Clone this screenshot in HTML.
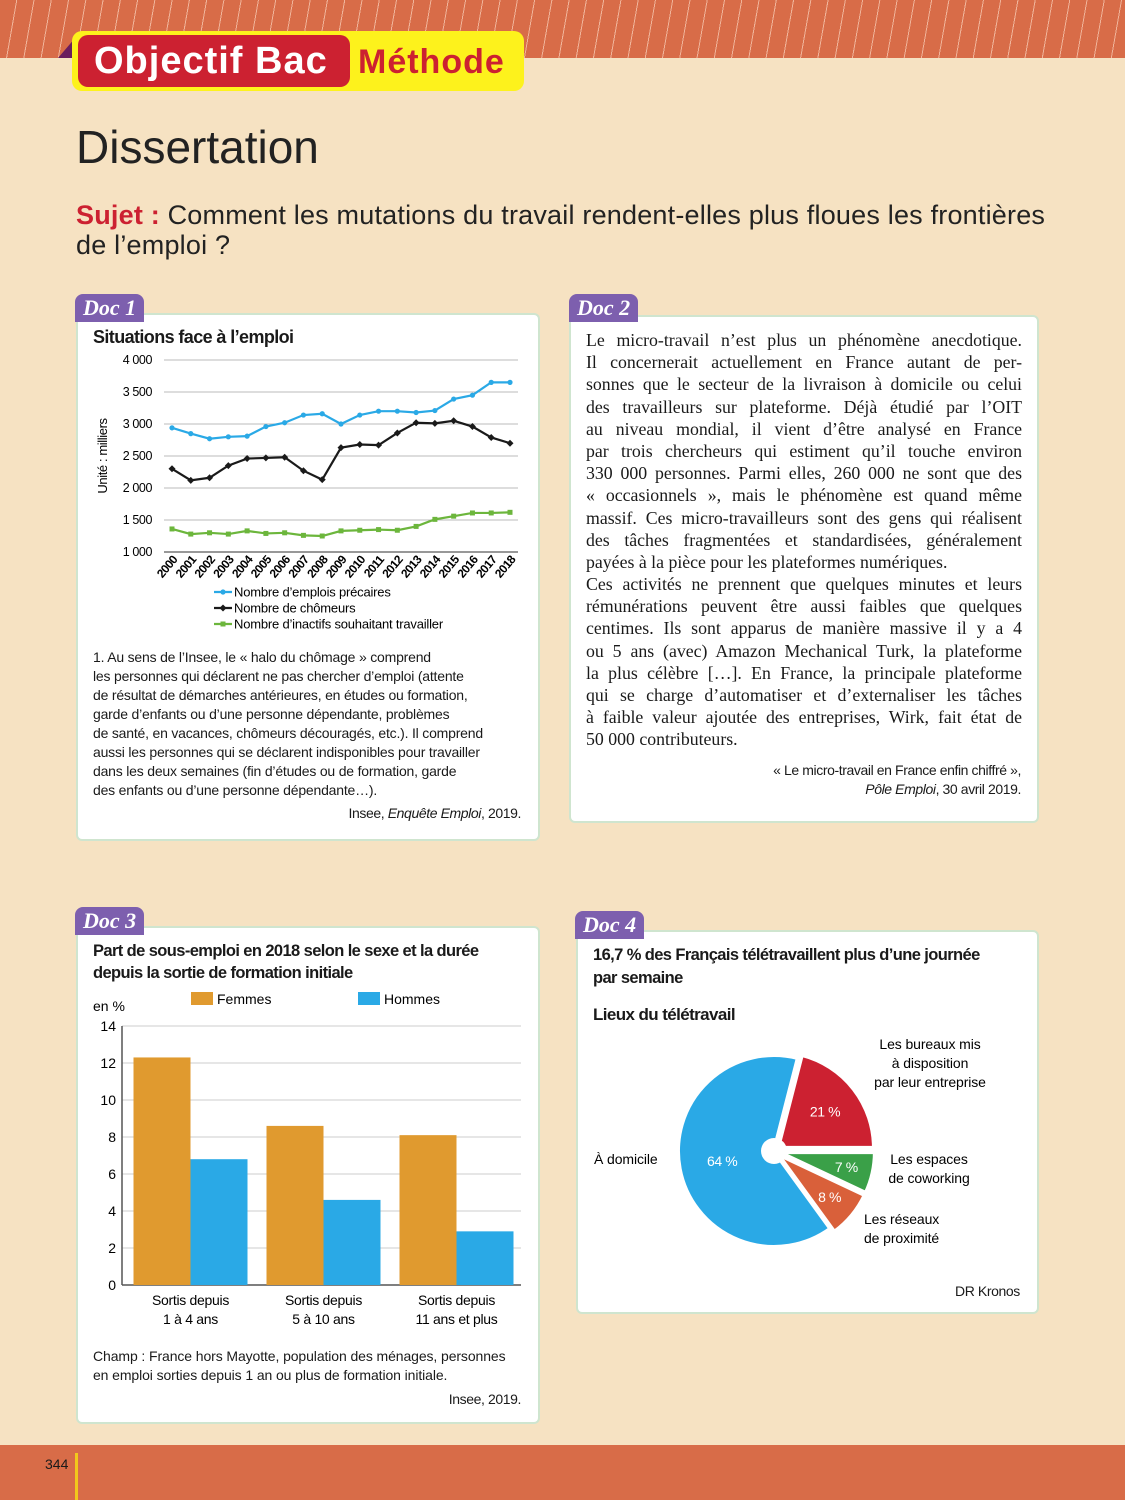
<!DOCTYPE html>
<html><head><meta charset="utf-8">
<style>
*{margin:0;padding:0;box-sizing:border-box}
body{width:1125px;height:1500px;position:relative;background:#f6e2c2;font-family:"Liberation Sans",sans-serif;overflow:hidden;color:#1a1a1a}
.abs{position:absolute}
.box{position:absolute;background:#fff;border:2px solid #cfe5cf;border-radius:6px}
.tab{position:absolute;background:#7d5fae;color:#fff;font-family:"Liberation Serif",serif;font-style:italic;font-weight:bold;font-size:22px;border-radius:8px 8px 0 0;padding:0 8px;height:28px;line-height:28px}
.cond{font-family:"Liberation Sans Narrow","Liberation Sans",sans-serif;letter-spacing:-0.6px}
.serif{font-family:"Liberation Serif",serif}
.nar{letter-spacing:-0.4px;white-space:nowrap}
.jl{text-align:justify;text-align-last:justify;white-space:nowrap;height:22.2px}
.jl.end{text-align-last:left}
</style></head><body>
<div class="abs" style="left:0;top:0;width:1125px;height:58px;background:repeating-linear-gradient(100deg,#d86c48 0 16px,#f0b49a 16px 17px)"></div>
<div class="abs" style="left:58px;top:37px;width:0;height:0;border-left:18px solid transparent;border-bottom:21px solid #6a1d5e"></div>
<div class="abs" style="left:72px;top:31px;width:452px;height:60px;background:#fdf21c;border-radius:10px"></div>
<div class="abs" style="left:78px;top:35px;width:272px;height:52px;background:#cc2131;border-radius:10px;color:#fff;font-weight:bold;font-size:38px;line-height:52px;padding-left:16px;letter-spacing:1px">Objectif Bac</div>
<div class="abs" style="left:358px;top:38px;color:#cc2131;font-weight:bold;font-size:34px;line-height:48px;letter-spacing:1px">Méthode</div>
<div class="abs" style="left:76px;top:120px;font-size:46px;color:#222">Dissertation</div>
<div class="abs" style="left:76px;top:200px;font-size:27px;line-height:30px;white-space:nowrap;color:#222;letter-spacing:0.2px"><span style="color:#cc2131;font-weight:bold">Sujet :</span> Comment les mutations du travail rendent-elles plus floues les frontières<br>de l’emploi ?</div>

<!-- Doc 1 -->
<div class="box" style="left:76px;top:313px;width:464px;height:528px"></div>
<div class="tab" style="left:75px;top:294px">Doc 1</div>
<div class="abs cond" style="left:93px;top:327px;font-weight:bold;font-size:18px">Situations face à l’emploi</div>
<svg class="abs" style="left:76px;top:340px" width="464" height="300" id="lc"></svg>
<div class="abs nar" style="left:93px;top:648px;font-size:14px;line-height:19px;letter-spacing:-0.2px">1. Au sens de l’Insee, le « halo du chômage » comprend<br>les personnes qui déclarent ne pas chercher d’emploi (attente<br>de résultat de démarches antérieures, en études ou formation,<br>garde d’enfants ou d’une personne dépendante, problèmes<br>de santé, en vacances, chômeurs découragés, etc.). Il comprend<br>aussi les personnes qui se déclarent indisponibles pour travailler<br>dans les deux semaines (fin d’études ou de formation, garde<br>des enfants ou d’une personne dépendante…).</div>
<div class="abs nar" style="right:604px;top:805px;font-size:14px">Insee, <i>Enquête Emploi</i>, 2019.</div>

<!-- Doc 2 -->
<div class="box" style="left:569px;top:315px;width:470px;height:508px"></div>
<div class="tab" style="left:569px;top:294px">Doc 2</div>
<div class="abs serif" style="left:586px;top:329px;width:436px;font-size:17.8px;line-height:22.2px">
<div class="jl">Le micro-travail n’est plus un phénomène anecdotique.</div>
<div class="jl">Il concernerait actuellement en France autant de per-</div>
<div class="jl">sonnes que le secteur de la livraison à domicile ou celui</div>
<div class="jl">des travailleurs sur plateforme. Déjà étudié par l’OIT</div>
<div class="jl">au niveau mondial, il vient d’être analysé en France</div>
<div class="jl">par trois chercheurs qui estiment qu’il touche environ</div>
<div class="jl">330 000 personnes. Parmi elles, 260 000 ne sont que des</div>
<div class="jl">« occasionnels », mais le phénomène est quand même</div>
<div class="jl">massif. Ces micro-travailleurs sont des gens qui réalisent</div>
<div class="jl">des tâches fragmentées et standardisées, généralement</div>
<div class="jl end">payées à la pièce pour les plateformes numériques.</div>
<div class="jl">Ces activités ne prennent que quelques minutes et leurs</div>
<div class="jl">rémunérations peuvent être aussi faibles que quelques</div>
<div class="jl">centimes. Ils sont apparus de manière massive il y a 4</div>
<div class="jl">ou 5 ans (avec) Amazon Mechanical Turk, la plateforme</div>
<div class="jl">la plus célèbre […]. En France, la principale plateforme</div>
<div class="jl">qui se charge d’automatiser et d’externaliser les tâches</div>
<div class="jl">à faible valeur ajoutée des entreprises, Wirk, fait état de</div>
<div class="jl end">50 000 contributeurs.</div>
</div>
<div class="abs nar" style="right:104px;top:761px;font-size:14px;line-height:19px;text-align:right">« Le micro-travail en France enfin chiffré »,<br><i>Pôle Emploi</i>, 30 avril 2019.</div>

<!-- Doc 3 -->
<div class="box" style="left:76px;top:926px;width:464px;height:498px"></div>
<div class="tab" style="left:75px;top:907px">Doc 3</div>
<div class="abs cond" style="left:93px;top:940px;font-weight:bold;font-size:16.5px;line-height:22px;white-space:nowrap">Part de sous-emploi en 2018 selon le sexe et la durée<br>depuis la sortie de formation initiale</div>
<svg class="abs" style="left:76px;top:985px" width="464" height="350" id="bc"></svg>
<div class="abs nar" style="left:93px;top:1347px;font-size:14px;line-height:19px;letter-spacing:-0.1px">Champ : France hors Mayotte, population des ménages, personnes<br>en emploi sorties depuis 1 an ou plus de formation initiale.</div>
<div class="abs nar" style="right:604px;top:1391px;font-size:14px">Insee, 2019.</div>

<!-- Doc 4 -->
<div class="box" style="left:576px;top:930px;width:463px;height:384px"></div>
<div class="tab" style="left:575px;top:911px">Doc 4</div>
<div class="abs cond" style="left:593px;top:944px;font-weight:bold;font-size:16.5px;line-height:23px;white-space:nowrap">16,7 % des Français télétravaillent plus d’une journée<br>par semaine</div>
<div class="abs cond" style="left:593px;top:1005px;font-weight:bold;font-size:17px">Lieux du télétravail</div>
<svg class="abs" style="left:576px;top:1030px" width="463" height="250" id="pc"></svg>
<div class="abs nar" style="left:955px;top:1283px;font-size:14px">DR Kronos</div>

<div class="abs" style="left:0;top:1445px;width:1125px;height:55px;background:#d86c48"></div>
<div class="abs" style="left:45px;top:1456px;font-size:14px">344</div>
<div class="abs" style="left:75px;top:1453px;width:3px;height:47px;background:#f2c81b"></div>

<script>
// ---- Doc 1 line chart data ----
const years = ["2000","2001","2002","2003","2004","2005","2006","2007","2008","2009","2010","2011","2012","2013","2014","2015","2016","2017","2018"];
const precaires = [2940,2850,2770,2800,2810,2960,3020,3140,3160,3000,3140,3200,3200,3180,3210,3390,3450,3650,3650];
const chomeurs = [2300,2120,2160,2350,2460,2470,2480,2270,2130,2630,2680,2670,2860,3020,3010,3050,2960,2790,2700];
const inactifs = [1360,1280,1300,1280,1330,1290,1300,1260,1250,1330,1340,1350,1340,1400,1510,1560,1610,1610,1620];
const lineTicks = [1000,1500,2000,2500,3000,3500,4000];
const lineTickLabels = ["1 000","1 500","2 000","2 500","3 000","3 500","4 000"];
const legendLabels = ["Nombre d’emplois précaires","Nombre de chômeurs","Nombre d’inactifs souhaitant travailler"];

// ---- Doc 3 bar chart data ----
const barCats = [["Sortis depuis","1 à 4 ans"],["Sortis depuis","5 à 10 ans"],["Sortis depuis","11 ans et plus"]];
const femmes = [12.3,8.6,8.1];
const hommes = [6.8,4.6,2.9];
const barTicks = [0,2,4,6,8,10,12,14];

// ---- Doc 4 pie data ----
const pieLabels = ["Les bureaux mis à disposition par leur entreprise","Les espaces de coworking","Les réseaux de proximité","À domicile"];
const pieValues = [21,7,8,64];

const NS="http://www.w3.org/2000/svg";
function mk(parent,tag,attrs,text){const e=document.createElementNS(NS,tag);for(const k in attrs)e.setAttribute(k,attrs[k]);if(text!==undefined)e.textContent=text;parent.appendChild(e);return e;}

(function(){
 const s=document.getElementById('lc');
 const x0=96,x1=434,yTop=20,yBot=212;
 const xs=i=>x0+(x1-x0)*i/(years.length-1);
 const ys=v=>yBot-(v-1000)/3000*(yBot-yTop);
 lineTicks.forEach((t,i)=>{
  const g=mk(s,'line',{x1:88,x2:442,y1:ys(t),y2:ys(t),stroke:i==0?'#777':'#bbb','stroke-width':i==0?1.5:1});
  
  
  const l=mk(s,'text',{x:76,y:ys(t)+4,'text-anchor':'end','font-size':12.5,'letter-spacing':-0.4},lineTickLabels[i]);
  
  
 });
 const yt=mk(s,'text',{transform:'translate(31,116) rotate(-90)','text-anchor':'middle','font-size':13,'letter-spacing':-0.4},'Unité : milliers');
 
 
 years.forEach((y,i)=>{
  const t=mk(s,'text',{transform:`translate(${xs(i)+6},${yBot+8}) rotate(-50)`,'text-anchor':'end','font-size':12,'font-weight':'bold','letter-spacing':-0.6},y);
  
  
 });
 const series=[[precaires,'#2aa9e6','circle'],[chomeurs,'#1a1a1a','diamond'],[inactifs,'#6cb63c','square']];
 function marker(m,x,y,c){
   let e;
   if(m=='circle')e=mk(s,'circle',{cx:x,cy:y,r:2.6,fill:c});
   else if(m=='square')e=mk(s,'rect',{x:x-2.5,y:y-2.5,width:5,height:5,fill:c});
   else e=mk(s,'path',{d:`M${x},${y-3.5}l3.5,3.5l-3.5,3.5l-3.5,-3.5z`,fill:c});
   return e;
 }
 series.forEach(([d,c,m],k)=>{
  const p=mk(s,'polyline',{points:d.map((v,i)=>xs(i)+','+ys(v)).join(' '),fill:'none',stroke:c,'stroke-width':2.2});
  
  
  d.forEach((v,i)=>{
   const e=marker(m,xs(i),ys(v),c);
   
   
  });
  const ly=252+k*16;
  const ll=mk(s,'line',{x1:138,x2:156,y1:ly,y2:ly,stroke:c,'stroke-width':2.2});
  
  
  const lm=marker(m,147,ly,c);
  
  
  const lt=mk(s,'text',{x:158,y:ly+4.5,'font-size':13,'letter-spacing':-0.2},legendLabels[k]);
  
  
 });
})();

(function(){
 const s=document.getElementById('bc');
 const x0=46,x1=445,yTop=41,yBot=300;
 const ys=v=>yBot-v/14*(yBot-yTop);
 barTicks.forEach(t=>{
  const g=mk(s,'line',{x1:x0,x2:x1,y1:ys(t),y2:ys(t),stroke:t==0?'#555':'#ccc','stroke-width':t==0?1.5:1});
  
  
  const l=mk(s,'text',{x:40,y:ys(t)+5,'text-anchor':'end','font-size':14},String(t));
  
  
 });
 const ax=mk(s,'line',{x1:x0,x2:x0,y1:yTop,y2:yBot,stroke:'#555','stroke-width':1.5});
 
 
 const un=mk(s,'text',{x:17,y:26,'font-size':14},'en %');
 
 
 const grp=(x1-x0)/barCats.length, bw=57;
 barCats.forEach((c,i)=>{
  const cx=x0+grp*(i+0.5)+2;
  const bf=mk(s,'rect',{x:cx-bw,y:ys(femmes[i]),width:bw,height:yBot-ys(femmes[i]),fill:'#e09a2f'});
  
  
  const bh=mk(s,'rect',{x:cx,y:ys(hommes[i]),width:bw,height:yBot-ys(hommes[i]),fill:'#2aa9e6'});
  
  
  c.forEach((ln,j)=>{
   const t=mk(s,'text',{x:cx,y:320+j*19,'text-anchor':'middle','font-size':14,'letter-spacing':-0.3},ln);
   
   
  });
 });
 [['Femmes','#e09a2f',115],['Hommes','#2aa9e6',282]].forEach(([n,c,x])=>{
  const r=mk(s,'rect',{x:x,y:7,width:22,height:13,fill:c});
  
  
  const t=mk(s,'text',{x:x+26,y:19,'font-size':14},n);
  
  
 });
})();

(function(){
 const s=document.getElementById('pc');
 const cx=198,cy=121,r=96;
 const colors=['#cc2131','#3aa048','#d9603a','#2aa9e6'];
 const explode=[5,5,5,0];
 const pctPos=[0.62,0.72,0.7,0.55];
 const total=pieValues.reduce((a,b)=>a+b,0);
 let a=-pieValues[0]/total*360;
 pieValues.forEach((v,i)=>{
  const sw=v/total*360, a0=a, a1=a+sw; a=a1;
  const mid=(a0+a1)/2*Math.PI/180;
  const ox=cx+explode[i]*Math.cos(mid), oy=cy+explode[i]*Math.sin(mid);
  const p0=[ox+r*Math.cos(a0*Math.PI/180),oy+r*Math.sin(a0*Math.PI/180)];
  const p1=[ox+r*Math.cos(a1*Math.PI/180),oy+r*Math.sin(a1*Math.PI/180)];
  const path=mk(s,'path',{d:`M${ox},${oy}L${p0[0]},${p0[1]}A${r},${r} 0 ${sw>180?1:0} 1 ${p1[0]},${p1[1]}Z`,fill:colors[i],stroke:'#fff','stroke-width':4,'stroke-linejoin':'round'});
  
  
  const t=mk(s,'text',{x:ox+r*pctPos[i]*Math.cos(mid),y:oy+r*pctPos[i]*Math.sin(mid)+5,'text-anchor':'middle','font-size':14,fill:'#fff','letter-spacing':-0.4},v+' %');
  
  
 });
 const hole=mk(s,'circle',{cx:cx,cy:cy,r:13,fill:'#fff'});
 
 
 const lbls=[[["Les bureaux mis","à disposition","par leur entreprise"],354,19,'middle'],[["Les espaces","de coworking"],353,134,'middle'],[["Les réseaux","de proximité"],288,194,'start'],[["À domicile"],18,134,'start']];
 lbls.forEach(([ls,x,y,an])=>{
  ls.forEach((ln,j)=>{
   const t=mk(s,'text',{x:x,y:y+j*19,'text-anchor':an,'font-size':14,'letter-spacing':-0.1},ln);
   
   
  });
 });
})();
</script>
</body></html>
